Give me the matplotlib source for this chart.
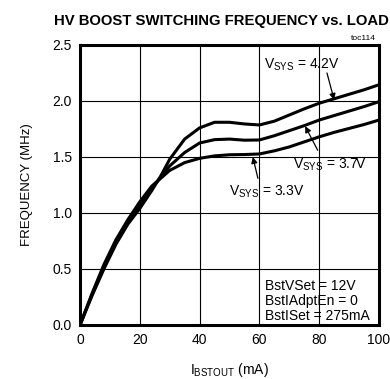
import numpy as np
import matplotlib
matplotlib.use("Agg")
import matplotlib.pyplot as plt

plt.rcParams['font.family'] = ['Liberation Sans', 'DejaVu Sans']

# load current (mA)
i_load = [0, 4, 8, 12, 16, 20, 24, 27, 30, 35, 40, 45, 50, 55, 60, 65, 70, 75, 80, 85, 90, 95, 100]

# switching frequency (MHz) for each VSYS
f_42 = [0, 0.26, 0.50, 0.72, 0.90, 1.04, 1.20, 1.33, 1.48, 1.66, 1.76, 1.81, 1.81, 1.795, 1.786, 1.82, 1.875, 1.93, 1.98, 2.02, 2.06, 2.10, 2.145]
f_37 = [0, 0.27, 0.52, 0.74, 0.92, 1.07, 1.22, 1.32, 1.42, 1.54, 1.625, 1.655, 1.66, 1.65, 1.652, 1.69, 1.735, 1.78, 1.83, 1.87, 1.91, 1.95, 1.994]
f_33 = [0, 0.28, 0.54, 0.76, 0.94, 1.10, 1.24, 1.31, 1.38, 1.45, 1.488, 1.51, 1.52, 1.522, 1.527, 1.555, 1.59, 1.635, 1.68, 1.72, 1.755, 1.79, 1.83]

xticks = [0, 20, 40, 60, 80, 100]
yticks = [0.0, 0.5, 1.0, 1.5, 2.0, 2.5]

fig = plt.figure(figsize=(3.9, 3.79), dpi=100)
ax = fig.add_axes([80/390, 1-325/379, 299/390, 280/379])

for f in (f_42, f_37, f_33):
    ax.plot(i_load, f, color='black', lw=2.2, solid_capstyle='round', zorder=3)

ax.set_xlim(0, 100)
ax.set_ylim(0, 2.5)
ax.set_xticks(xticks)
ax.set_yticks(yticks)
ax.set_yticklabels(['%.1f' % v for v in yticks])
ax.tick_params(length=0, labelsize=10, pad=6)
ax.grid(True, color='black', lw=0.8)
for s in ax.spines.values():
    s.set_linewidth(2.2)

ax.set_xlabel(r'I$_{\mathregular{BSTOUT}}$ (mA)', fontsize=10, labelpad=10)
ax.set_ylabel('FREQUENCY (MHz)', fontsize=9.5, labelpad=14)

fig.text(0.567, 0.945, 'HV BOOST SWITCHING FREQUENCY vs. LOAD',
         ha='center', va='center', fontsize=10.7, fontweight='bold')
ax.text(0.99, 1.01, 'toc114', transform=ax.transAxes, ha='right', va='bottom', fontsize=6)

# curve labels with arrows
arw = dict(arrowstyle='-|>', color='black', lw=0.9, mutation_scale=9, shrinkA=0, shrinkB=0)
ax.annotate('', xy=(85, 2.01), xytext=(82.6, 2.25), arrowprops=arw)
ax.text(74, 2.32, r'V$_{\mathregular{SYS}}$ = 4.2V', ha='center', va='center', fontsize=10)
ax.annotate('', xy=(75.3, 1.775), xytext=(79.5, 1.56), arrowprops=arw)
ax.text(83.5, 1.43, r'V$_{\mathregular{SYS}}$ = 3.7V', ha='center', va='center', fontsize=10)
ax.annotate('', xy=(57.8, 1.5), xytext=(59.5, 1.31), arrowprops=arw)
ax.text(62.5, 1.19, r'V$_{\mathregular{SYS}}$ = 3.3V', ha='center', va='center', fontsize=10)

ax.text(62, 0.02, 'BstVSet = 12V\nBstIAdptEn = 0\nBstISet = 275mA',
        ha='left', va='bottom', fontsize=10, linespacing=1.1)

fig.savefig('out.png', dpi=100)
